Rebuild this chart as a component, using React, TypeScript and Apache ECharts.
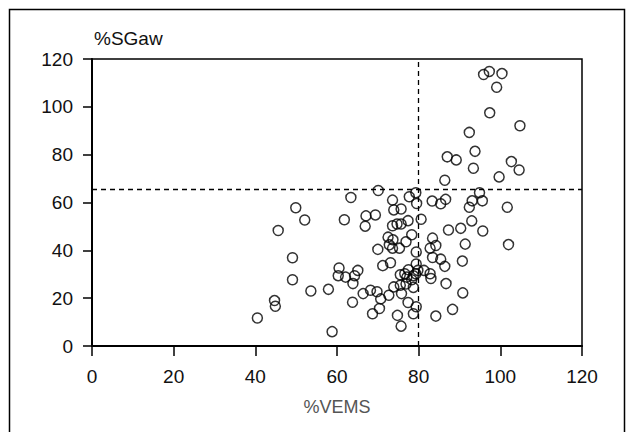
import React, { useEffect, useRef } from "react";
import * as echarts from "echarts";

const xTicks = [0, 20, 40, 60, 80, 100, 120];
const yTicks = [0, 20, 40, 60, 80, 100, 120];
const refX = 80;
const refY = 65.5;

// %VEMS values
const vems = [
  95.9, 97.3, 100.4, 99.1, 97.4, 104.8, 92.4, 93.8, 87.0, 89.2, 93.4, 102.7, 104.6, 99.7, 86.4,
  70.1, 79.3, 63.4, 77.7, 73.6, 79.5, 83.3, 85.4, 86.6, 94.9, 93.1, 95.6, 92.4, 101.7, 49.9,
  73.9, 75.7, 69.4, 67.1, 66.9, 52.1, 61.8, 73.6, 74.7, 75.7, 77.4, 80.6, 93.0, 45.6, 87.3,
  90.3, 95.7, 78.3, 72.5, 73.7, 76.9, 83.4, 70.0, 72.8, 73.6, 75.3, 82.8, 84.2, 91.4, 102.0,
  79.4, 49.1, 83.4, 85.4, 90.7, 73.1, 71.2, 79.4, 86.4, 60.5, 65.1, 77.5, 79.8, 81.3, 60.3,
  62.1, 64.3, 75.5, 76.6, 82.8, 77.1, 78.7, 78.3, 79.3, 83.0, 49.1, 63.9, 86.7, 76.9, 75.5,
  78.7, 73.9, 57.9, 53.6, 68.2, 69.8, 66.4, 72.7, 75.8, 90.8, 70.7, 44.7, 44.9, 63.8, 77.4,
  79.4, 70.4, 88.3, 68.7, 78.7, 74.8, 84.2, 40.5, 75.7, 58.8,
];

// %SGaw values
const sgaw = [
  113.5, 114.8, 113.9, 108.2, 97.5, 92.1, 89.3, 81.4, 79.1, 77.8, 74.3, 77.1, 73.6, 70.7, 69.3,
  65.0, 64.1, 62.1, 62.4, 61.0, 59.6, 60.6, 59.5, 61.3, 64.1, 60.7, 60.7, 58.0, 58.0, 57.8,
  56.9, 57.3, 54.8, 54.4, 50.1, 52.7, 52.8, 50.3, 51.0, 51.0, 52.4, 53.0, 52.3, 48.3, 48.5,
  49.2, 48.1, 46.5, 45.5, 44.4, 43.6, 45.1, 40.4, 42.3, 40.9, 40.9, 40.9, 42.0, 42.6, 42.4,
  39.3, 36.9, 37.0, 36.3, 35.5, 34.8, 33.6, 34.3, 33.3, 32.6, 31.6, 31.9, 31.6, 31.6, 29.4,
  28.8, 29.4, 29.8, 30.2, 30.2, 28.8, 29.4, 27.7, 30.2, 28.2, 27.7, 26.1, 26.1, 25.9, 25.4,
  24.5, 24.7, 23.7, 23.0, 23.3, 22.7, 21.9, 21.2, 21.9, 22.2, 19.7, 19.0, 16.6, 18.3, 18.2,
  16.4, 15.7, 15.3, 13.5, 13.5, 12.8, 12.5, 11.7, 8.3, 6.0,
];

const FONT = "'Liberation Sans', Arial, Helvetica, sans-serif";

export default function App() {
  const ref = useRef<HTMLDivElement>(null);
  useEffect(() => {
    if (!ref.current) return;
    const chart = echarts.init(ref.current, null, { renderer: "svg" });
    const data = vems.map((v, i) => [v, sgaw[i]]);
    chart.setOption({
      animation: false,
      backgroundColor: "#fff",
      grid: {
        left: 92,
        right: 46,
        top: 59,
        bottom: 86,
        show: true,
        borderColor: "#000",
        borderWidth: 1.5,
        backgroundColor: "transparent",
      },
      xAxis: {
        type: "value",
        min: xTicks[0],
        max: xTicks[xTicks.length - 1],
        interval: 20,
        name: "%VEMS",
        nameLocation: "middle",
        nameGap: 52,
        nameTextStyle: { color: "#555", fontSize: 18, fontFamily: FONT },
        axisLine: { show: true, onZero: false, lineStyle: { color: "#000", width: 2 } },
        axisTick: { show: true, length: 10, lineStyle: { color: "#000", width: 1.5 } },
        axisLabel: { color: "#111", fontSize: 19, fontFamily: FONT, margin: 21 },
        splitLine: { show: false },
      },
      yAxis: {
        type: "value",
        min: yTicks[0],
        max: yTicks[yTicks.length - 1],
        interval: 20,
        axisLine: { show: true, onZero: false, lineStyle: { color: "#000", width: 2 } },
        axisTick: { show: true, length: 9, lineStyle: { color: "#000", width: 1.5 } },
        axisLabel: { color: "#111", fontSize: 19, fontFamily: FONT, margin: 19 },
        splitLine: { show: false },
      },
      graphic: [
        {
          type: "rect",
          shape: { x: 9.5, y: 9.5, width: 615, height: 440 },
          style: { fill: "none", stroke: "#000", lineWidth: 1.5 },
          silent: true,
        },
        {
          type: "text",
          left: 94,
          top: 29,
          style: { text: "%SGaw", fill: "#111", fontSize: 19, fontFamily: FONT },
        },
      ],
      series: [
        {
          type: "scatter",
          data,
          symbol: "circle",
          symbolSize: 10,
          itemStyle: { color: "transparent", borderColor: "#000", borderWidth: 1.5 },
          markLine: {
            silent: true,
            symbol: "none",
            label: { show: false },
            lineStyle: { color: "#000", type: [5, 4], width: 1.3 },
            data: [{ xAxis: refX }, { yAxis: refY }],
          },
        },
      ],
    });
    return () => chart.dispose();
  }, []);
  return <div ref={ref} style={{ width: 628, height: 432, position: "absolute", left: 0, top: 0 }} />;
}
